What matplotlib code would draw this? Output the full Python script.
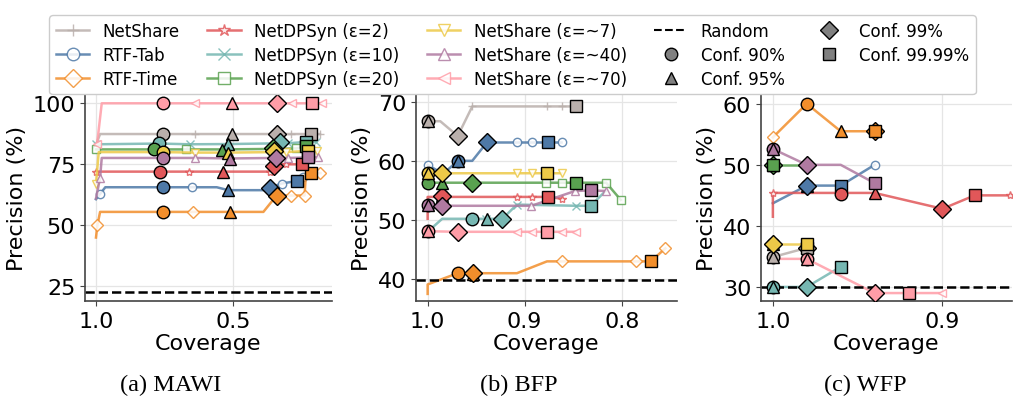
import matplotlib.pyplot as plt
from matplotlib.lines import Line2D

series = ["NetShare", "RTF-Tab", "RTF-Time", "NetDPSyn (ε=2)", "NetDPSyn (ε=10)",
          "NetDPSyn (ε=20)", "NetShare (ε=~7)", "NetShare (ε=~40)", "NetShare (ε=~70)"]
colors = ["#bab0ac", "#4e79a7", "#f28e2b", "#e15759", "#76b7b2",
          "#59a14f", "#edc948", "#b07aa1", "#ff9da7"]
markers = ["+", "o", "D", "*", "x", "s", "v", "^", "<"]
conf_labels = ["Conf. 90%", "Conf. 95%", "Conf. 99%", "Conf. 99.99%"]
conf_markers = ["o", "^", "D", "s"]

# ---- MAWI ----
mawi_curves = {
    "NetShare": ([1.0, 0.985, 0.755, 0.64, 0.505, 0.342, 0.288, 0.215, 0.184],
                 [83, 87.4, 87.4, 87.4, 87.4, 87.4, 87.4, 87.4, 87.4]),
    "RTF-Tab": ([1.0, 0.984, 0.966, 0.65, 0.56, 0.518, 0.38, 0.367, 0.324, 0.267, 0.245],
                [60.7, 63.0, 65.6, 65.6, 65.6, 64.4, 64.4, 65.4, 67.1, 68.2, 70.0]),
    "RTF-Time": ([1.0, 0.995, 0.985, 0.755, 0.645, 0.51, 0.39, 0.342, 0.29, 0.24, 0.235, 0.218, 0.182],
                 [45, 50, 55.5, 55.5, 55.5, 55.5, 55.5, 62.2, 62.2, 62.2, 71.4, 71.4, 71.4]),
    "NetDPSyn (ε=2)": ([1.0, 0.767, 0.66, 0.537, 0.367, 0.352, 0.308, 0.251],
                       [72, 72, 72, 72, 72, 74.5, 75, 75]),
    "NetDPSyn (ε=10)": ([1.0, 0.77, 0.657, 0.518, 0.33, 0.30, 0.233, 0.20],
                        [83.2, 83.5, 83.2, 83.3, 83.6, 83.6, 84.2, 84.2]),
    "NetDPSyn (ε=20)": ([1.0, 0.788, 0.672, 0.542, 0.355, 0.27, 0.236],
                        [81.1, 81.1, 81.1, 81.1, 81.3, 81.5, 82.3]),
    "NetShare (ε=~7)": ([1.0, 0.99, 0.757, 0.64, 0.518, 0.352, 0.306, 0.226, 0.194],
                        [67, 80, 80, 79.8, 79.8, 80.0, 80.0, 80.5, 80.5]),
    "NetShare (ε=~40)": ([1.0, 0.985, 0.979, 0.754, 0.638, 0.51, 0.345, 0.30, 0.226, 0.19],
                         [61, 69.5, 77.6, 77.6, 77.6, 77.4, 77.6, 77.6, 77.8, 77.8]),
    "NetShare (ε=~70)": ([0.996, 0.979, 0.754, 0.638, 0.504, 0.34, 0.284, 0.213, 0.178],
                         [83.2, 100, 100, 100, 100, 100, 100, 100, 100]),
}
mawi_marks = {
    "NetShare": [3, 6, 8], "RTF-Tab": [1, 3, 8, 10], "RTF-Time": [1, 4, 8, 9, 12],
    "NetDPSyn (ε=2)": [0, 2, 4, 6], "NetDPSyn (ε=10)": [0, 2, 5, 7],
    "NetDPSyn (ε=20)": [0, 2, 5], "NetShare (ε=~7)": [0, 3, 6, 8],
    "NetShare (ε=~40)": [1, 4, 7, 9], "NetShare (ε=~70)": [0, 3, 6, 8],
}
mawi_conf = {
    "NetShare": ([0.755, 0.505, 0.342, 0.215], [87.4, 87.4, 87.4, 87.4]),
    "RTF-Tab": ([0.755, 0.518, 0.367, 0.267], [65.6, 64.4, 65.4, 68.2]),
    "RTF-Time": ([0.755, 0.51, 0.342, 0.218], [55.5, 55.5, 62.2, 71.4]),
    "NetDPSyn (ε=2)": ([0.767, 0.537, 0.352, 0.251], [72, 71.8, 74.5, 75]),
    "NetDPSyn (ε=10)": ([0.77, 0.518, 0.33, 0.233], [83.8, 83.3, 84.2, 84.2]),
    "NetDPSyn (ε=20)": ([0.788, 0.542, 0.355, 0.236], [81.1, 80.8, 81.6, 82.3]),
    "NetShare (ε=~7)": ([0.757, 0.518, 0.352, 0.226], [80.0, 79.8, 80.4, 80.5]),
    "NetShare (ε=~40)": ([0.754, 0.51, 0.345, 0.226], [77.6, 77.3, 77.7, 77.8]),
    "NetShare (ε=~70)": ([0.754, 0.504, 0.34, 0.213], [100, 100, 100, 100]),
}

# ---- BFP ----
bfp_curves = {
    "NetShare": ([1.0, 0.987, 0.969, 0.954, 0.877, 0.862, 0.847],
                 [66.7, 66.7, 64.2, 69.2, 69.2, 69.2, 69.2]),
    "RTF-Tab": ([1.0, 0.984, 0.969, 0.954, 0.939, 0.908, 0.892, 0.876, 0.862],
                [59.3, 57.8, 60.0, 60.0, 63.1, 63.1, 63.1, 63.1, 63.1]),
    "RTF-Time": ([1.0, 1.0, 0.969, 0.953, 0.908, 0.877, 0.862, 0.785, 0.770, 0.755],
                 [37.5, 39.1, 41.0, 41.0, 41.0, 43.0, 43.0, 43.0, 43.0, 45.2]),
    "NetDPSyn (ε=2)": ([1.0, 1.0, 0.985, 0.908, 0.892, 0.876, 0.862],
                       [50.2, 53.9, 53.9, 53.9, 53.9, 53.9, 53.6]),
    "NetDPSyn (ε=10)": ([1.0, 0.985, 0.954, 0.940, 0.923, 0.908, 0.847, 0.832, 0.816],
                        [48.0, 50.2, 50.2, 50.2, 50.2, 52.6, 52.4, 52.4, 55.0]),
    "NetDPSyn (ε=20)": ([1.0, 0.985, 0.954, 0.878, 0.862, 0.847, 0.816, 0.801],
                        [56.3, 56.3, 56.3, 56.3, 56.3, 56.3, 56.3, 53.4]),
    "NetShare (ε=~7)": ([1.0, 0.985, 0.908, 0.892, 0.877, 0.862],
                        [58.0, 57.9, 57.9, 57.9, 57.9, 57.9]),
    "NetShare (ε=~40)": ([1.0, 0.985, 0.893, 0.848, 0.832, 0.816],
                         [52.5, 52.4, 52.4, 54.9, 55.0, 54.9]),
    "NetShare (ε=~70)": ([1.0, 0.969, 0.908, 0.892, 0.877, 0.862, 0.847],
                         [48.1, 48.0, 48.0, 48.0, 48.0, 48.0, 48.0]),
}
bfp_marks = {
    "NetShare": [3, 4, 5], "RTF-Tab": [0, 5, 6, 8], "RTF-Time": [6, 7, 9],
    "NetDPSyn (ε=2)": [3, 4, 6], "NetDPSyn (ε=10)": [3, 5, 6],
    "NetDPSyn (ε=20)": [3, 4, 6, 7], "NetShare (ε=~7)": [2, 3, 5],
    "NetShare (ε=~40)": [2, 3, 5], "NetShare (ε=~70)": [2, 3, 5, 6],
}
bfp_conf = {
    "NetShare": ([1.0, 1.0, 0.969, 0.847], [66.7, 66.7, 64.2, 69.2]),
    "RTF-Tab": ([0.969, 0.969, 0.939, 0.876], [60.0, 60.0, 63.1, 63.1]),
    "RTF-Time": ([0.969, 0.953, 0.953, 0.770], [41.0, 40.8, 41.0, 43.0]),
    "NetDPSyn (ε=2)": ([0.985, 0.985, 0.985, 0.876], [54.0, 54.0, 54.1, 53.9]),
    "NetDPSyn (ε=10)": ([0.954, 0.939, 0.923, 0.832], [50.1, 50.1, 50.1, 52.4]),
    "NetDPSyn (ε=20)": ([1.0, 0.985, 0.954, 0.847], [56.3, 56.3, 56.3, 56.3]),
    "NetShare (ε=~7)": ([1.0, 1.0, 0.985, 0.877], [58.0, 58.0, 57.9, 57.9]),
    "NetShare (ε=~40)": ([1.0, 1.0, 0.985, 0.832], [52.5, 52.5, 52.4, 55.0]),
    "NetShare (ε=~70)": ([1.0, 1.0, 0.969, 0.877], [48.1, 48.1, 48.0, 48.0]),
}

# ---- WFP ----
wfp_curves = {
    "NetShare": ([1.0, 0.98], [34.9, 36.4]),
    "RTF-Tab": ([1.0, 0.98, 0.96, 0.94], [43.7, 46.6, 46.6, 50.0]),
    "RTF-Time": ([1.0, 0.98, 0.96, 0.94], [54.5, 60.0, 55.5, 55.5]),
    "NetDPSyn (ε=2)": ([1.0, 1.0, 0.96, 0.94, 0.90, 0.881, 0.86],
                       [41.5, 45.4, 45.4, 45.4, 42.8, 45.0, 45.0]),
    "NetDPSyn (ε=10)": ([1.0, 0.98, 0.96], [30.0, 30.0, 33.3]),
    "NetDPSyn (ε=20)": ([1.0, 0.98], [50.0, 50.0]),
    "NetShare (ε=~7)": ([1.0, 0.98], [37.1, 37.1]),
    "NetShare (ε=~40)": ([1.0, 0.98, 0.96, 0.94], [52.6, 50.0, 50.0, 47.0]),
    "NetShare (ε=~70)": ([1.0, 0.98, 0.94, 0.92, 0.90], [34.6, 34.6, 29.0, 29.0, 29.0]),
}
wfp_marks = {
    "NetShare": [], "RTF-Tab": [3], "RTF-Time": [0], "NetDPSyn (ε=2)": [1, 6],
    "NetDPSyn (ε=10)": [], "NetDPSyn (ε=20)": [], "NetShare (ε=~7)": [],
    "NetShare (ε=~40)": [], "NetShare (ε=~70)": [4],
}
wfp_conf = {
    "NetShare": ([1.0, 1.0, 0.98, 0.98], [34.9, 34.9, 36.4, 36.4]),
    "RTF-Tab": ([0.98, 0.98, 0.98, 0.96], [46.6, 46.6, 46.6, 46.6]),
    "RTF-Time": ([0.98, 0.96, 0.94, 0.94], [60.0, 55.5, 55.5, 55.5]),
    "NetDPSyn (ε=2)": ([0.96, 0.94, 0.90, 0.881], [45.3, 45.4, 42.8, 45.0]),
    "NetDPSyn (ε=10)": ([1.0, 1.0, 0.98, 0.96], [30.0, 30.0, 30.0, 33.3]),
    "NetDPSyn (ε=20)": ([1.0, 1.0, 1.0, 1.0], [50.0, 50.0, 50.0, 50.0]),
    "NetShare (ε=~7)": ([1.0, 1.0, 1.0, 0.98], [37.1, 37.1, 37.1, 37.1]),
    "NetShare (ε=~40)": ([1.0, 1.0, 0.98, 0.94], [52.6, 52.6, 50.0, 47.0]),
    "NetShare (ε=~70)": ([0.98, 0.98, 0.94, 0.92], [34.6, 34.6, 29.0, 29.0]),
}

random_prec = [22.5, 39.8, 30.0]
captions = ["(a) MAWI", "(b) BFP", "(c) WFP"]
xticks = [[1.0, 0.5], [1.0, 0.9, 0.8], [1.0, 0.9]]
yticks = [[25, 50, 75, 100], [40, 50, 60, 70], [30, 40, 50, 60]]
xlims = [(1.04, 0.14), (1.012, 0.743), (1.007, 0.859)]
ylims = [(19.0, 103.8), (36.3, 71.3), (27.7, 61.6)]

datasets = [(mawi_curves, mawi_marks, mawi_conf),
            (bfp_curves, bfp_marks, bfp_conf),
            (wfp_curves, wfp_marks, wfp_conf)]

fig = plt.figure(figsize=(10.15, 4.06), dpi=100)
boxes = [(85, 332), (416, 677), (761, 1012)]
cap_x = [171, 519, 865]
W, H = 1015, 406
for k, (curves, marks, conf) in enumerate(datasets):
    l, r = boxes[k]
    ax = fig.add_axes([l / W, 1 - 302 / H, (r - l) / W, (302 - 95) / H])
    for name, c, m in zip(series, colors, markers):
        cov, prec = curves[name]
        ax.plot(cov, prec, color=c, lw=1.8, alpha=0.85, marker=m,
                markevery=marks[name], markersize=6, markerfacecolor="white",
                markeredgecolor=c, markeredgewidth=1.0, zorder=2)
    ax.axhline(random_prec[k], color="black", ls="--", lw=1.8, zorder=2.5)
    for name, c in zip(series, colors):
        ccov, cprec = conf[name]
        for x, y, cm in zip(ccov, cprec, conf_markers):
            ax.plot([x], [y], marker=cm, markersize=9, markerfacecolor=c,
                    markeredgecolor="black", markeredgewidth=1.0, ls="none", zorder=3)
    ax.set_xlim(*xlims[k])
    ax.set_ylim(*ylims[k])
    ax.set_xticks(xticks[k])
    ax.set_yticks(yticks[k])
    ax.grid(True, color="#e5e5e5", lw=0.9)
    ax.set_axisbelow(True)
    for s in ["top", "right"]:
        ax.spines[s].set_visible(False)
    for s in ["left", "bottom"]:
        ax.spines[s].set_color("#444444")
        ax.spines[s].set_linewidth(1.2)
    ax.tick_params(labelsize=16, length=3.5, color="#444444")
    ax.set_xlabel("Coverage", fontsize=16, labelpad=2)
    ax.set_ylabel("Precision (%)", fontsize=16, labelpad=4)
    fig.text(cap_x[k] / W, 1 - 385 / H, captions[k], ha="center", va="center",
             fontsize=17.5, family="Liberation Serif")

handles = []
for name, c, m in zip(series, colors, markers):
    handles.append(Line2D([], [], color=c, lw=1.8, alpha=0.85, marker=m, markersize=9,
                          markerfacecolor="white", markeredgecolor=c, label=name))
handles.append(Line2D([], [], color="black", ls="--", lw=1.5, label="Random"))
for lab, cm in zip(conf_labels, conf_markers):
    handles.append(Line2D([], [], ls="none", marker=cm, markersize=9,
                          markerfacecolor="#808080", markeredgecolor="black", label=lab))
fig.legend(handles=handles, ncol=5, loc="upper center", bbox_to_anchor=(0.505, 0.98),
           fontsize=12, frameon=True, edgecolor="#cccccc", framealpha=1,
           handlelength=2.0, columnspacing=1.65, labelspacing=0.35, borderpad=0.4)

fig.savefig("out.png", dpi=100)
